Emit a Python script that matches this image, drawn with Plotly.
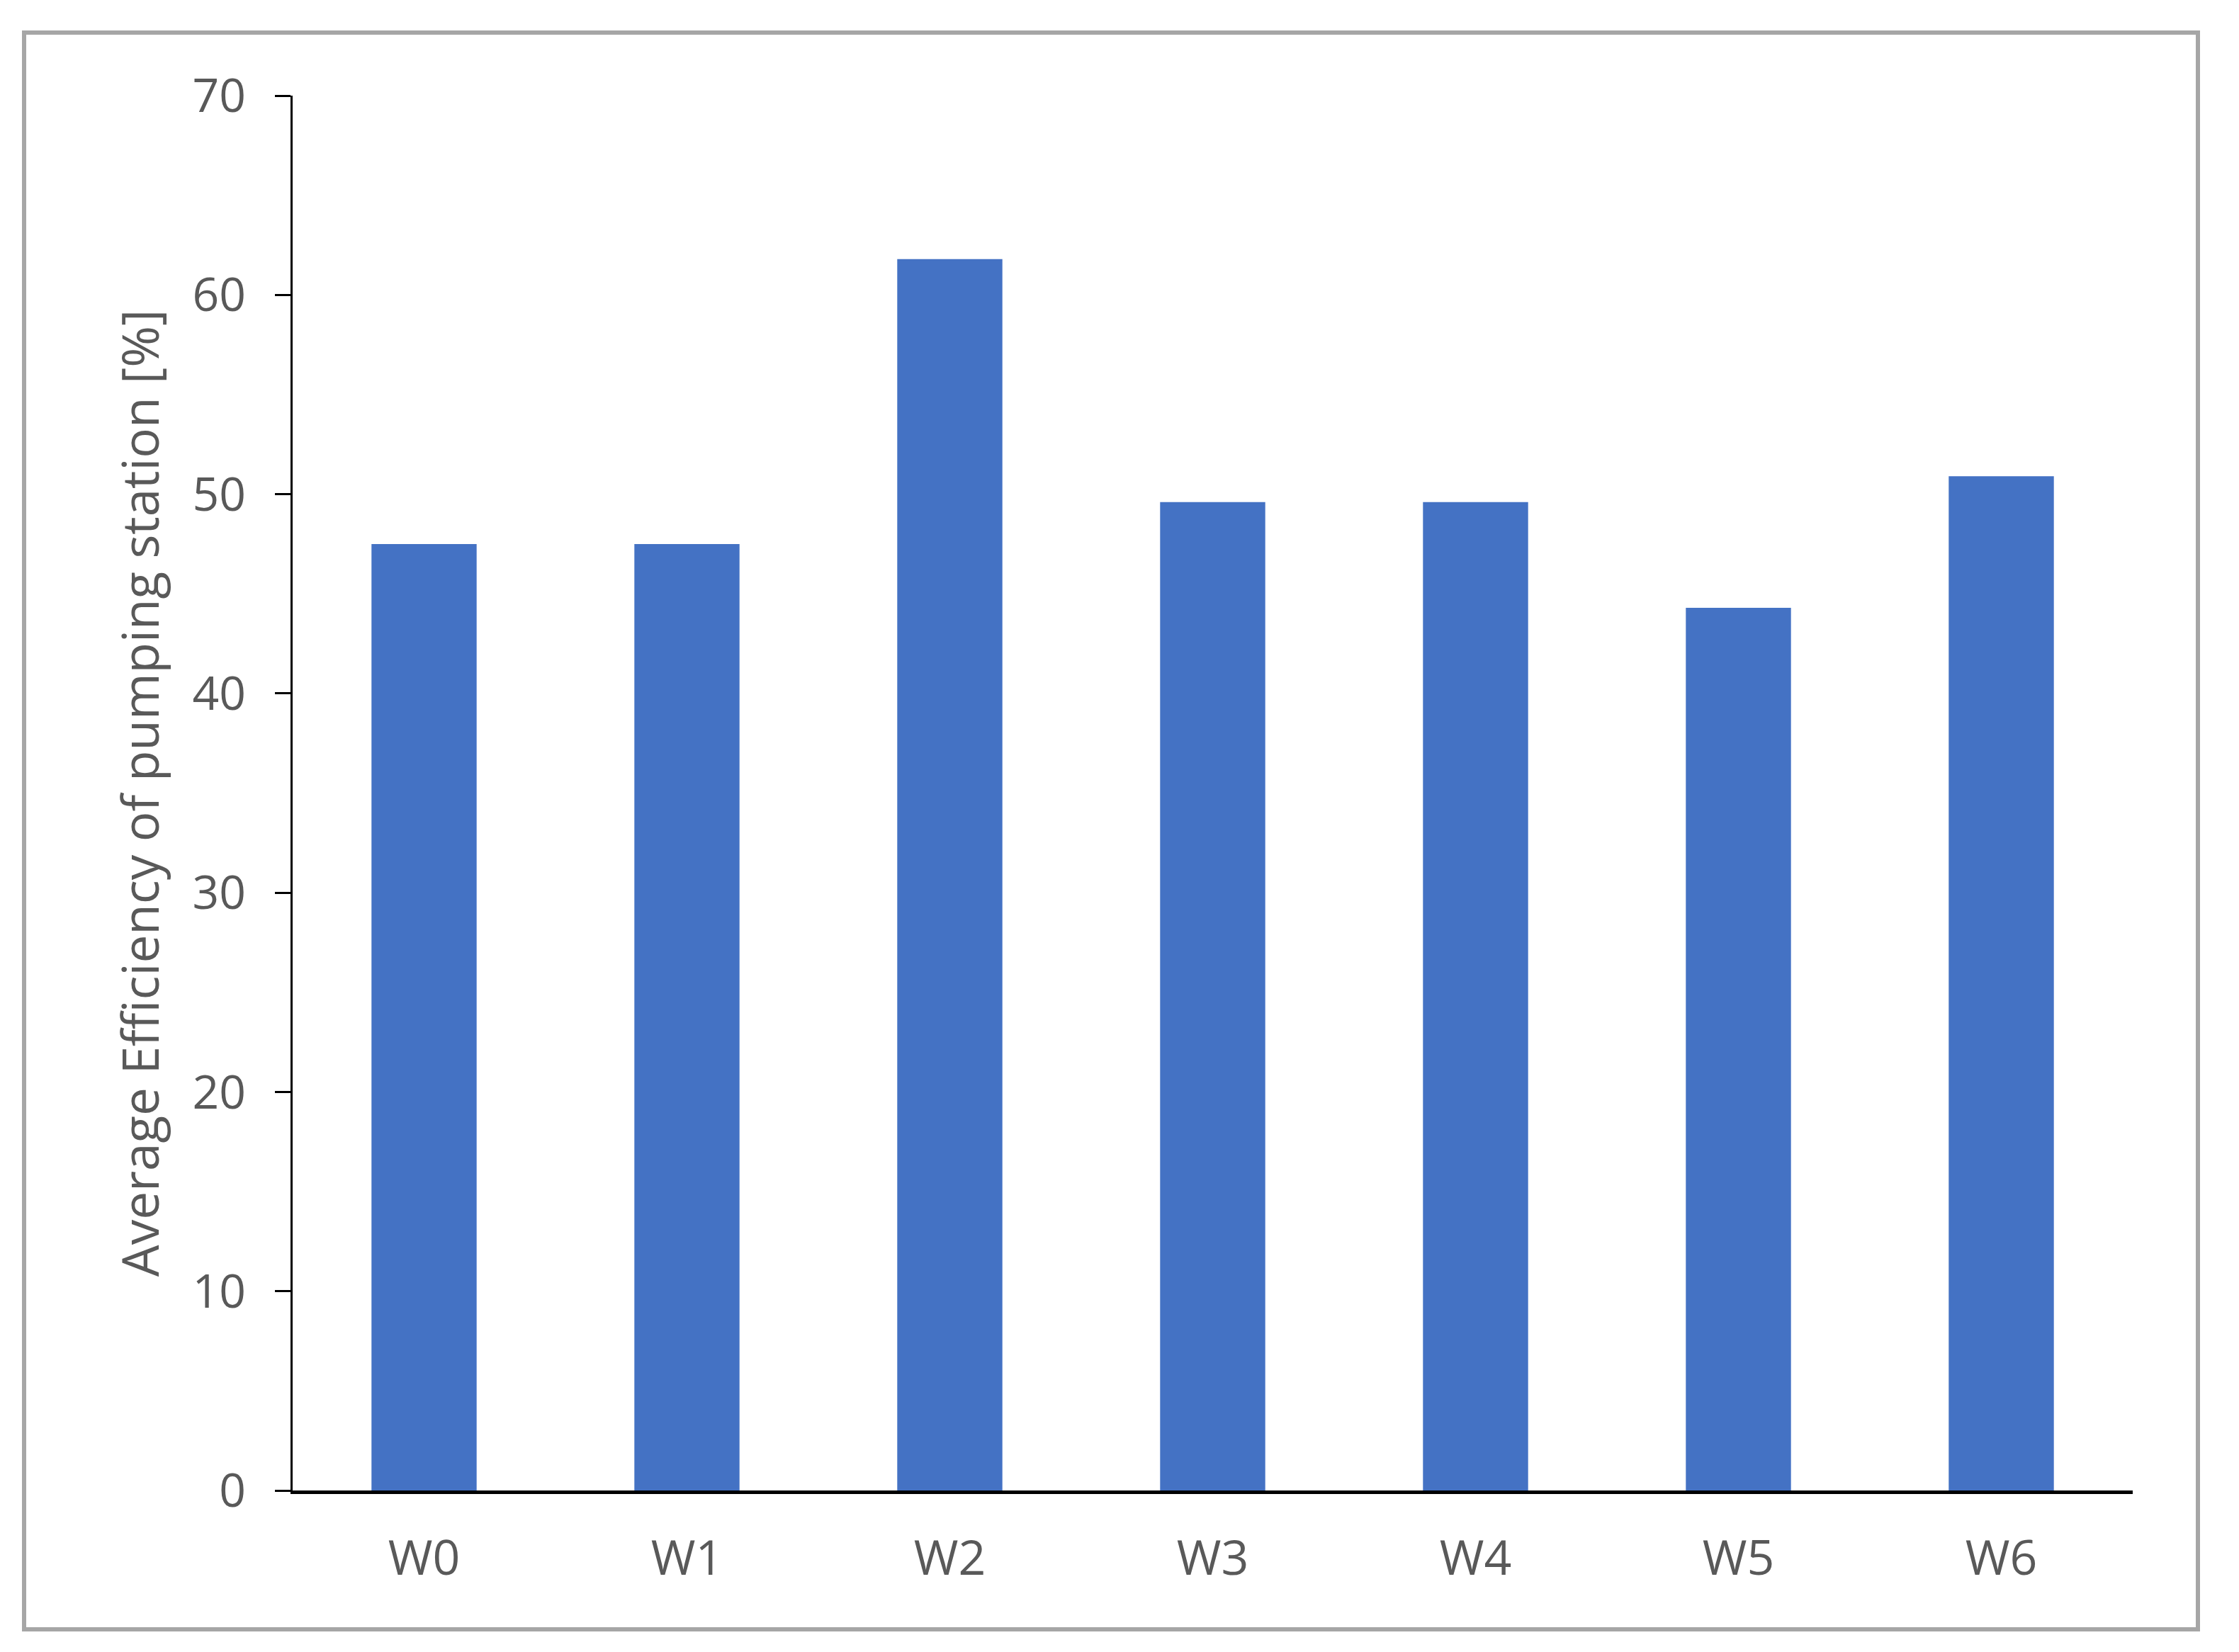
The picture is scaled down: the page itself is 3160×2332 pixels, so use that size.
import plotly.graph_objects as go

# Average pumping station efficiency per variant
variants = ['W0', 'W1', 'W2', 'W3', 'W4', 'W5', 'W6']
efficiency = [47.5, 47.5, 61.8, 49.6, 49.6, 44.3, 50.9]
y_ticks = [0, 10, 20, 30, 40, 50, 60, 70]

W, H = 3160, 2332
# page body adds an 8px offset, so margins are shifted by that
left, right, top, bottom = 405, 158, 127, 236
pw, ph = W - left - right, H - top - bottom

font_family = 'Open Sans, Noto Sans, sans-serif'
grey = '#595959'

fig = go.Figure()
fig.add_trace(go.Bar(x=variants, y=efficiency, marker=dict(color='#4472C4', line=dict(width=0))))

# outer chart frame (in px, converted to paper coords)
def px_x(v):
    return (v - left) / pw

def px_y(v):
    return (H - bottom - v) / ph

fig.add_shape(type='rect', xref='paper', yref='paper',
              x0=px_x(26), x1=px_x(3094), y0=px_y(2292), y1=px_y(38),
              line=dict(color='#A6A6A6', width=6), layer='below')

fig.update_layout(
    width=W, height=H,
    margin=dict(l=left, r=right, t=top, b=bottom, autoexpand=False),
    paper_bgcolor='white', plot_bgcolor='white',
    bargap=0.6, showlegend=False,
    font=dict(family=font_family, color=grey, size=66),
)
fig.update_xaxes(showline=True, linecolor='black', linewidth=5, ticks='',
                 showgrid=False, tickfont=dict(size=68, color=grey), ticklabelstandoff=32)
fig.update_yaxes(range=[0, 70], tickvals=y_ticks, showgrid=False, zeroline=False,
                 showline=True, linecolor='black', linewidth=2.5,
                 ticks='outside', ticklen=22, tickwidth=2.5, tickcolor='black',
                 tickfont=dict(size=66, color=grey), ticklabelstandoff=28,
                 title=dict(text='Average Efficiency of pumping station [%]',
                            font=dict(size=71, color=grey), standoff=24))

fig.write_html('out.html')
